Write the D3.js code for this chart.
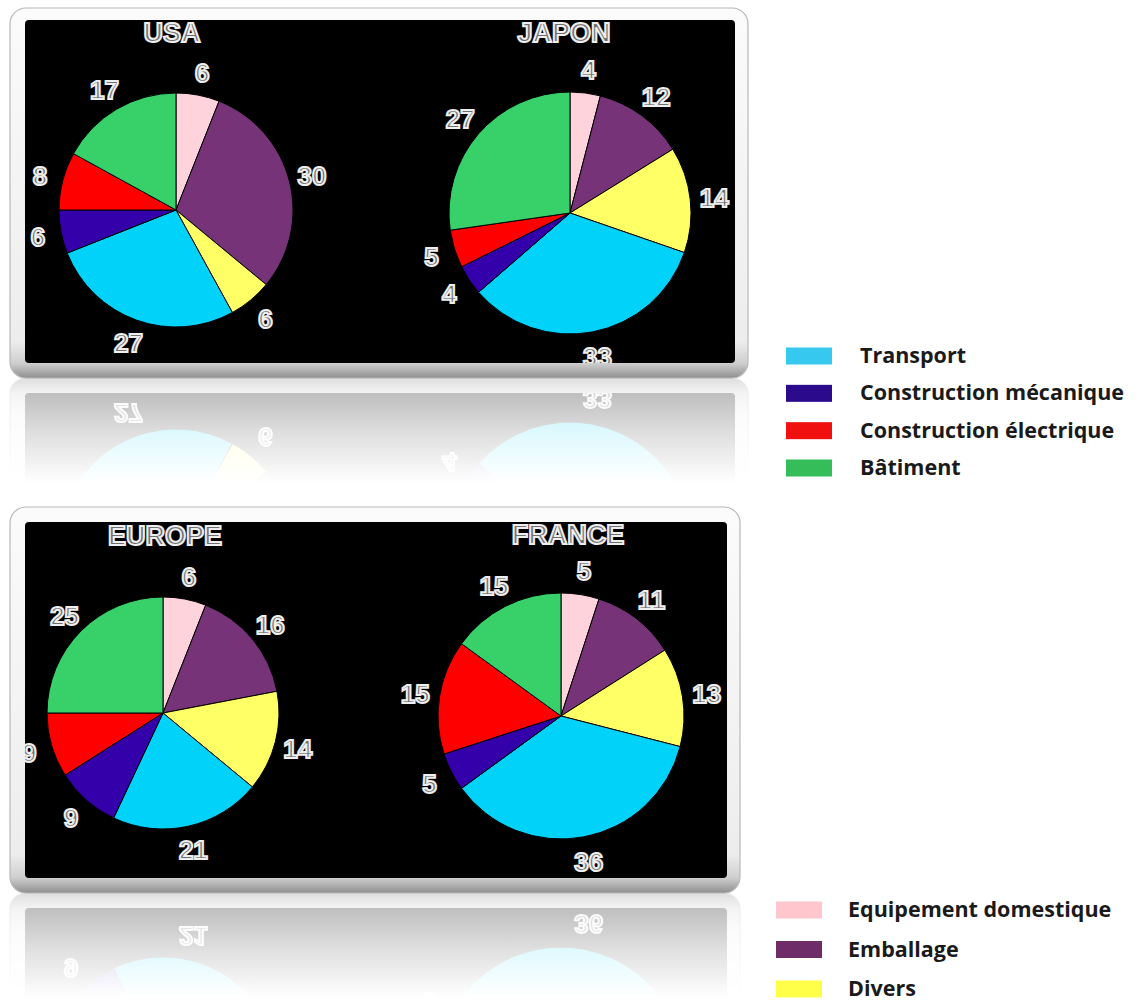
<!DOCTYPE html>
<html><head><meta charset="utf-8">
<script src="https://cdn.jsdelivr.net/npm/d3@7"></script>
<style>
html,body{margin:0;padding:0;background:#fff;}
svg{display:block;}
</style></head>
<body>
<svg id="chart" width="1142" height="1003"></svg>
<script>
// ---- data ----
const categories = ["Equipement domestique","Emballage","Divers","Transport","Construction mécanique","Construction électrique","Bâtiment"];
const usaValues    = [6, 30, 6, 27, 6, 8, 17];
const japonValues  = [4, 12, 14, 33, 4, 5, 27];
const europeValues = [6, 16, 14, 21, 9, 9, 25];
const franceValues = [5, 11, 13, 36, 5, 15, 15];
const countries = ["USA", "JAPON", "EUROPE", "FRANCE"];
const legendTop = ["Transport","Construction mécanique","Construction électrique","Bâtiment"];
const legendBottom = ["Equipement domestique","Emballage","Divers"];

// ---- styles ----
const pieColors = {
  "Equipement domestique":"#ffd3dc","Emballage":"#773377","Divers":"#ffff66",
  "Transport":"#00d2fa","Construction mécanique":"#3300aa","Construction électrique":"#ff0000","Bâtiment":"#38d068"
};
const legendColors = {
  "Equipement domestique":"#ffc6ce","Emballage":"#6e2c68","Divers":"#ffff4a",
  "Transport":"#36c8ee","Construction mécanique":"#2c0a8c","Construction électrique":"#f01010","Bâtiment":"#34bd58"
};

const svg = d3.select("#chart");
const defs = svg.append("defs");

const fg = defs.append("linearGradient").attr("id","frameGrad").attr("x1",0).attr("y1",0).attr("x2",0).attr("y2",1);
[[0,"#fbfbfb"],[0.9,"#ededed"],[0.96,"#cfcfcf"],[1,"#8f8f8f"]].forEach(s=>fg.append("stop").attr("offset",s[0]).attr("stop-color",s[1]));
const fade = defs.append("linearGradient").attr("id","fadeGrad").attr("x1",0).attr("y1",0).attr("x2",0).attr("y2",1);
[[0,0.3],[0.55,0.12],[1,0]].forEach(s=>fade.append("stop").attr("offset",s[0]).attr("stop-color","#fff").attr("stop-opacity",s[1]));

const rows = [
  {id:"rowTop", frame:{x:10,y:8,w:738,h:370}, black:{x:25,y:20,w:710,h:343},
   panels:[
     {name:countries[0], values:usaValues,   cx:176, cy:210, r:117, tx:172, ty:32},
     {name:countries[1], values:japonValues, cx:570, cy:213, r:121, tx:564, ty:32}
   ]},
  {id:"rowBottom", frame:{x:10,y:507,w:730,h:386}, black:{x:25,y:522,w:702,h:356},
   panels:[
     {name:countries[2], values:europeValues, cx:163, cy:713, r:116, tx:165, ty:535},
     {name:countries[3], values:franceValues, cx:561, cy:716, r:123, tx:568, ty:534}
   ]}
];

const pie = d3.pie().sort(null).value(d=>d.v);

function outlined(sel){
  return sel.attr("font-family","Liberation Sans, Arial, sans-serif").attr("font-weight","bold")
    .attr("fill","#6e6e6e").attr("stroke","#eeeeee").attr("stroke-width",2).attr("text-anchor","middle");
}

rows.forEach((row,ri)=>{
  const g = svg.append("g").attr("id",row.id);
  const f = row.frame, b = row.black;
  g.append("rect").attr("x",f.x).attr("y",f.y).attr("width",f.w).attr("height",f.h)
    .attr("rx",16).attr("fill","url(#frameGrad)").attr("stroke","#b8b8b8").attr("stroke-width",1.2);
  g.append("rect").attr("x",b.x).attr("y",b.y).attr("width",b.w).attr("height",b.h).attr("rx",4).attr("fill","#000");
  const clipId = "clip"+ri;
  defs.append("clipPath").attr("id",clipId).append("rect").attr("x",b.x).attr("y",b.y).attr("width",b.w).attr("height",b.h);
  const inner = g.append("g").attr("clip-path",`url(#${clipId})`);
  row.panels.forEach(p=>{
    const data = categories.map((c,i)=>({c, v:p.values[i]}));
    const arcs = pie(data);
    const arc = d3.arc().innerRadius(0).outerRadius(p.r);
    const lab = d3.arc().innerRadius(p.r*1.2).outerRadius(p.r*1.2);
    const pg = inner.append("g").attr("transform",`translate(${p.cx},${p.cy})`);
    pg.selectAll("path").data(arcs).join("path").attr("d",arc)
      .attr("fill",d=>pieColors[d.data.c]).attr("stroke","#000").attr("stroke-width",1);
    outlined(pg.selectAll("text").data(arcs).join("text"))
      .attr("font-size",26)
      .attr("x",d=>lab.centroid(d)[0]).attr("y",d=>lab.centroid(d)[1]+10)
      .text(d=>d.data.v);
    outlined(inner.append("text")).attr("font-size",27).attr("x",p.tx).attr("y",p.ty+10).text(p.name);
  });
  const m = f.y + f.h;
  const maskId = "mask"+ri;
  defs.append("mask").attr("id",maskId).attr("maskUnits","userSpaceOnUse")
    .attr("x",0).attr("y",m).attr("width",1142).attr("height",110)
    .append("rect").attr("x",0).attr("y",m).attr("width",1142).attr("height",105).attr("fill","url(#fadeGrad)");
  svg.append("g").attr("mask",`url(#${maskId})`)
    .append("use").attr("href","#"+row.id).attr("transform",`translate(0,${2*m}) scale(1,-1)`);
});

function legend(items, sx, tx, ys){
  const y = d3.scalePoint().domain(items).range(ys);
  const lg = svg.append("g");
  lg.selectAll("rect").data(items).join("rect")
    .attr("x",sx).attr("y",d=>y(d)-8.5).attr("width",46).attr("height",17).attr("fill",d=>legendColors[d]);
  lg.selectAll("text").data(items).join("text")
    .attr("x",tx).attr("y",d=>y(d)+7).attr("font-family","Open Sans, sans-serif").attr("font-weight",700)
    .attr("font-size",21.5).attr("fill","#1a1a1a").text(d=>d);
}
legend(legendTop, 786, 860, [356, 468]);
legend(legendBottom, 776, 848, [910, 989]);
</script>
</body></html>
